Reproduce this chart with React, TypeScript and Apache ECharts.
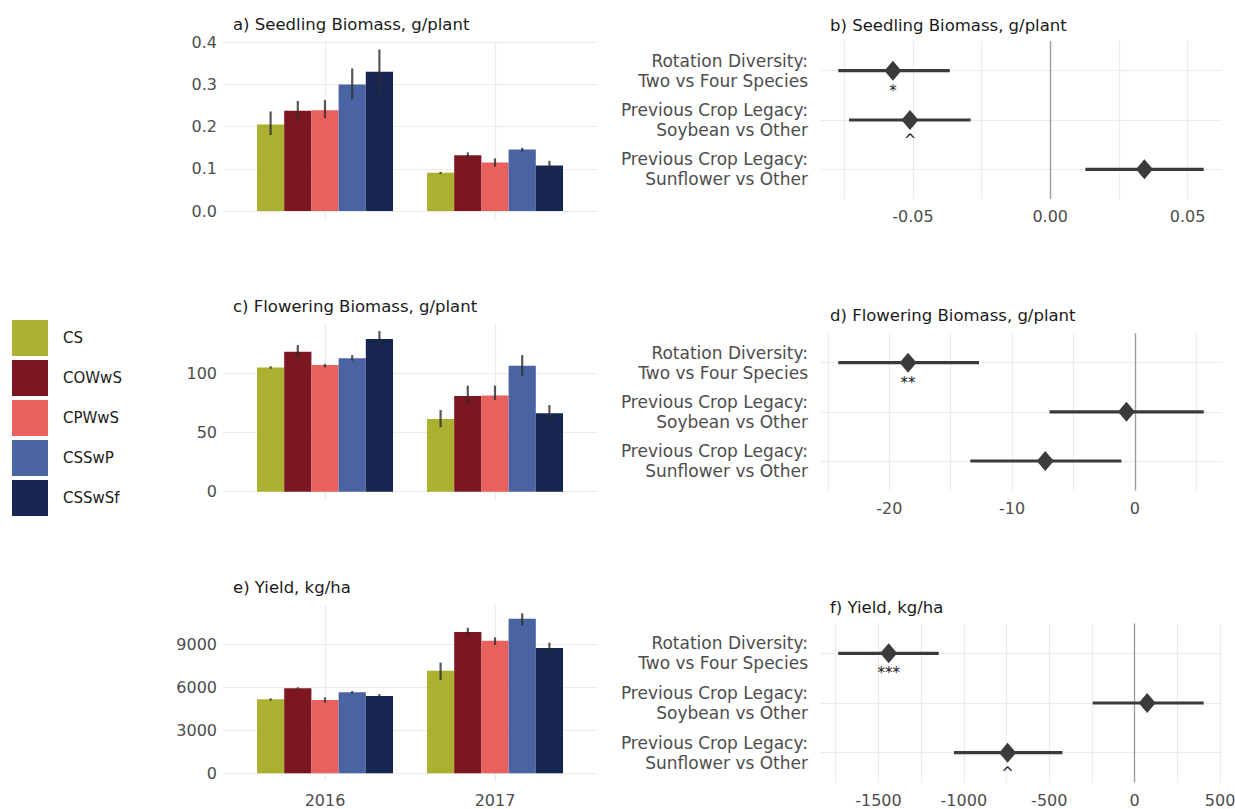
import { useEffect, useRef } from "react";
import * as echarts from "echarts";

const FONT = "DejaVu Sans";

const treatments = ["CS", "COWwS", "CPWwS", "CSSwP", "CSSwSf"];
const treatmentColors = ["#abb031", "#7c1621", "#e8615f", "#4a64a3", "#172650"];
const years = ["2016", "2017"];

// a) Seedling biomass, g/plant
const seedlingMean2016 = [0.205, 0.238, 0.239, 0.3, 0.33];
const seedlingLow2016 = [0.18, 0.216, 0.22, 0.265, 0.275];
const seedlingHigh2016 = [0.236, 0.261, 0.263, 0.338, 0.383];
const seedlingMean2017 = [0.091, 0.132, 0.115, 0.146, 0.108];
const seedlingLow2017 = [0.088, 0.122, 0.105, 0.141, 0.097];
const seedlingHigh2017 = [0.093, 0.139, 0.125, 0.15, 0.119];

// c) Flowering biomass, g/plant
const floweringMean2016 = [105, 118.3, 107, 112.7, 129];
const floweringLow2016 = [104, 114, 105, 110.7, 122.5];
const floweringHigh2016 = [106, 124, 108, 115.5, 135.8];
const floweringMean2017 = [61.4, 80.8, 81.4, 106.5, 66.2];
const floweringLow2017 = [54.4, 73.8, 77.5, 97.7, 60];
const floweringHigh2017 = [69, 89.6, 89.6, 115.5, 73.2];

// e) Yield, kg/ha
const yieldMean2016 = [5151, 5916, 5104, 5638, 5383];
const yieldLow2016 = [5058, 5847, 4919, 5568, 5290];
const yieldHigh2016 = [5220, 5986, 5290, 5730, 5522];
const yieldMean2017 = [7146, 9838, 9234, 10766, 8724];
const yieldLow2017 = [6497, 9559, 8933, 10302, 8399];
const yieldHigh2017 = [7703, 10139, 9466, 11137, 9095];

// contrasts
const effectLabels = [
  "Rotation Diversity:\nTwo vs Four Species",
  "Previous Crop Legacy:\nSoybean vs Other",
  "Previous Crop Legacy:\nSunflower vs Other",
];
const seedlingEst = [-0.0573, -0.0511, 0.0343];
const seedlingLo = [-0.0772, -0.0733, 0.0128];
const seedlingHi = [-0.0366, -0.029, 0.0559];
const seedlingSig = ["*", "^", ""];

const floweringEst = [-18.47, -0.69, -7.3];
const floweringLo = [-24.15, -6.95, -13.4];
const floweringHi = [-12.7, 5.6, -1.1];
const floweringSig = ["**", "", ""];

const yieldEst = [-1440, 73, -744];
const yieldLo = [-1735, -246, -1058];
const yieldHi = [-1147, 404, -423];
const yieldSig = ["***", "", "^"];

// tick values
const seedlingTicks = [0, 0.1, 0.2, 0.3, 0.4];
const floweringTicks = [0, 50, 100];
const yieldTicks = [0, 3000, 6000, 9000];
const seedlingEffTicks = [-0.05, 0, 0.05];
const seedlingEffGrid = [-0.075, -0.05, -0.025, 0, 0.025, 0.05];
const floweringEffTicks = [-20, -10, 0];
const floweringEffGrid = [-25, -20, -15, -10, -5, 0, 5];
const yieldEffTicks = [-1500, -1000, -500, 0, 500];
const yieldEffGrid = [-1750, -1500, -1250, -1000, -750, -500, -250, 0, 250, 500];

const expand = (lo: number, hi: number) => {
  const d = hi - lo;
  return [lo - 0.05 * d, hi + 0.05 * d];
};

const GRID_COLOR = "#ebebeb";
const AXIS_TEXT = "#4d4d4d";

function buildOption() {
  const grids = [
    { left: 223, top: 41.4, width: 374, height: 177.7 },
    { left: 223, top: 323, width: 374, height: 176.7 },
    { left: 223, top: 605.3, width: 374, height: 176 },
    { left: 820, top: 41.1, width: 402, height: 157.8 },
    { left: 820, top: 333.2, width: 402, height: 157.3 },
    { left: 820, top: 623.5, width: 402, height: 159 },
  ].map((g) => ({ ...g, outerBoundsMode: "none", containLabel: false }));

  const barPanels = [
    {
      mean: [seedlingMean2016, seedlingMean2017],
      low: [seedlingLow2016, seedlingLow2017],
      high: [seedlingHigh2016, seedlingHigh2017],
      ticks: seedlingTicks,
      fmt: (v: number) => v.toFixed(1),
    },
    {
      mean: [floweringMean2016, floweringMean2017],
      low: [floweringLow2016, floweringLow2017],
      high: [floweringHigh2016, floweringHigh2017],
      ticks: floweringTicks,
      fmt: (v: number) => String(Math.round(v)),
    },
    {
      mean: [yieldMean2016, yieldMean2017],
      low: [yieldLow2016, yieldLow2017],
      high: [yieldHigh2016, yieldHigh2017],
      ticks: yieldTicks,
      fmt: (v: number) => String(Math.round(v)),
    },
  ];

  const effPanels = [
    { est: seedlingEst, lo: seedlingLo, hi: seedlingHi, sig: seedlingSig, ticks: seedlingEffTicks, grid: seedlingEffGrid, fmt: (v: number) => v.toFixed(2) },
    { est: floweringEst, lo: floweringLo, hi: floweringHi, sig: floweringSig, ticks: floweringEffTicks, grid: floweringEffGrid, fmt: (v: number) => String(Math.round(v)) },
    { est: yieldEst, lo: yieldLo, hi: yieldHi, sig: yieldSig, ticks: yieldEffTicks, grid: yieldEffGrid, fmt: (v: number) => String(Math.round(v)) },
  ];

  const xAxis: any[] = [];
  const yAxis: any[] = [];
  const series: any[] = [];

  barPanels.forEach((p, idx) => {
    const maxHigh = Math.max(...p.high[0], ...p.high[1]);
    const [ymin, ymax] = expand(0, maxHigh);
    xAxis.push({
      type: "value",
      gridIndex: idx,
      min: 0.4,
      max: 2.6,
      axisLine: { show: false },
      axisTick: { show: false, customValues: [1, 2] },
      axisLabel: {
        show: idx === 2,
        customValues: [1, 2],
        formatter: (v: number) => years[Math.round(v) - 1] ?? "",
        color: AXIS_TEXT,
        fontFamily: FONT,
        fontSize: 16,
        margin: 11,
      },
      splitLine: { show: true, lineStyle: { color: GRID_COLOR, width: 1.2 } },
    });
    yAxis.push({
      type: "value",
      gridIndex: idx,
      min: ymin,
      max: ymax,
      axisLine: { show: false },
      axisTick: { show: false, customValues: p.ticks },
      axisLabel: {
        customValues: p.ticks,
        formatter: p.fmt,
        color: AXIS_TEXT,
        fontFamily: FONT,
        fontSize: 16,
        margin: 6,
      },
      splitLine: { show: true, lineStyle: { color: GRID_COLOR, width: 1.2 } },
    });
    treatments.forEach((name, t) => {
      const offset = (t - 2) * 0.16;
      series.push({
        type: "custom",
        name,
        xAxisIndex: idx,
        yAxisIndex: idx,
        itemStyle: { color: treatmentColors[t] },
        encode: { x: 0, y: 1 },
        data: years.map((_, yi) => [yi + 1, p.mean[yi][t], p.low[yi][t], p.high[yi][t]]),
        renderItem: (_params: any, api: any) => {
          const xc = api.value(0) + offset;
          const m = api.value(1);
          const lo = api.value(2);
          const hi = api.value(3);
          const p0 = api.coord([xc - 0.08, m]);
          const p1 = api.coord([xc + 0.08, 0]);
          const e0 = api.coord([xc, lo]);
          const e1 = api.coord([xc, hi]);
          return {
            type: "group",
            children: [
              {
                type: "rect",
                shape: { x: p0[0], y: p0[1], width: p1[0] - p0[0], height: p1[1] - p0[1] },
                style: { fill: treatmentColors[t] },
              },
              {
                type: "line",
                shape: { x1: e0[0], y1: e0[1], x2: e1[0], y2: e1[1] },
                style: { stroke: "rgba(45,45,45,0.8)", lineWidth: 2.2 },
              },
            ],
          };
        },
      });
    });
  });

  effPanels.forEach((p, k) => {
    const idx = k + 3;
    const [xmin, xmax] = expand(Math.min(...p.lo), Math.max(...p.hi));
    xAxis.push({
      type: "value",
      gridIndex: idx,
      min: xmin,
      max: xmax,
      axisLine: { show: false },
      axisTick: { show: false, customValues: p.grid },
      axisLabel: {
        customValues: p.ticks,
        formatter: p.fmt,
        color: AXIS_TEXT,
        fontFamily: FONT,
        fontSize: 16,
        margin: 10,
      },
      splitLine: { show: true, lineStyle: { color: GRID_COLOR, width: 1.2 } },
    });
    yAxis.push({
      type: "value",
      gridIndex: idx,
      inverse: true,
      min: 0.4,
      max: 3.6,
      axisLine: { show: false },
      axisTick: { show: false, customValues: [1, 2, 3] },
      axisLabel: {
        customValues: [1, 2, 3],
        formatter: (v: number) => effectLabels[Math.round(v) - 1] ?? "",
        color: AXIS_TEXT,
        fontFamily: FONT,
        fontSize: 17,
        lineHeight: 20,
        align: "right",
        margin: 12,
      },
      splitLine: { show: true, lineStyle: { color: GRID_COLOR, width: 1.2 } },
    });
    series.push({
      type: "custom",
      xAxisIndex: idx,
      yAxisIndex: idx,
      encode: { x: [0, 1], y: 2 },
      data: p.est.map((e, i) => [p.lo[i], p.hi[i], i + 1, e]),
      z: 2,
      renderItem: (params: any, api: any) => {
        const row = api.value(2);
        const a = api.coord([api.value(0), row]);
        const b = api.coord([api.value(1), row]);
        const e = api.coord([api.value(3), row]);
        const children: any[] = [
          {
            type: "line",
            shape: { x1: a[0], y1: a[1], x2: b[0], y2: b[1] },
            style: { stroke: "#3a3a3a", lineWidth: 3.2 },
          },
        ];
        const s = p.sig[params.dataIndex];
        if (s) {
          children.push({
            type: "text",
            x: e[0],
            y: e[1] + 20,
            style: {
              text: s,
              align: "center",
              verticalAlign: "middle",
              fontSize: 15,
              fontFamily: FONT,
              fill: "#1a1a1a",
            },
          });
        }
        return { type: "group", children };
      },
    });
    series.push({
      type: "scatter",
      xAxisIndex: idx,
      yAxisIndex: idx,
      data: p.est.map((e, i) => [e, i + 1]),
      symbol: "diamond",
      symbolSize: [17, 20],
      itemStyle: { color: "#3b3b3b", opacity: 1 },
      z: 4,
      markLine: {
        silent: true,
        symbol: "none",
        label: { show: false },
        lineStyle: { color: "#9a9a9a", width: 1.3, type: "solid" },
        data: [{ xAxis: 0 }],
        z: 1,
      },
    });
  });

  const titles = [
    { text: "a) Seedling Biomass, g/plant", x: 233, y: 24 },
    { text: "b) Seedling Biomass, g/plant", x: 830, y: 25 },
    { text: "c) Flowering Biomass, g/plant", x: 233, y: 306 },
    { text: "d) Flowering Biomass, g/plant", x: 830, y: 315 },
    { text: "e) Yield, kg/ha", x: 233, y: 587 },
    { text: "f) Yield, kg/ha", x: 830, y: 607 },
  ];

  return {
    animation: false,
    backgroundColor: "#ffffff",
    textStyle: { fontFamily: FONT },
    grid: grids,
    xAxis,
    yAxis,
    series,
    legend: {
      orient: "vertical",
      left: 12,
      top: 320,
      padding: 0,
      itemWidth: 36,
      itemHeight: 36,
      itemGap: 4,
      selectedMode: false,
      data: treatments.map((name) => ({ name, icon: "rect" })),
      textStyle: { fontFamily: FONT, fontSize: 15, color: "#1a1a1a", padding: [0, 0, 0, 10] },
    },
    graphic: titles.map((t) => ({
      type: "text",
      x: t.x,
      y: t.y,
      style: {
        text: t.text,
        fontFamily: FONT,
        fontSize: 16.5,
        fill: "#1a1a1a",
        verticalAlign: "middle",
        align: "left",
      },
    })),
  };
}

export default function App() {
  const ref = useRef<HTMLDivElement>(null);
  useEffect(() => {
    if (!ref.current) return;
    const chart = echarts.init(ref.current, undefined, { renderer: "svg" });
    chart.setOption(buildOption() as any);
    return () => chart.dispose();
  }, []);
  return (
    <div
      ref={ref}
      style={{ position: "absolute", left: 0, top: 0, width: 1235, height: 809, background: "#fff" }}
    />
  );
}
